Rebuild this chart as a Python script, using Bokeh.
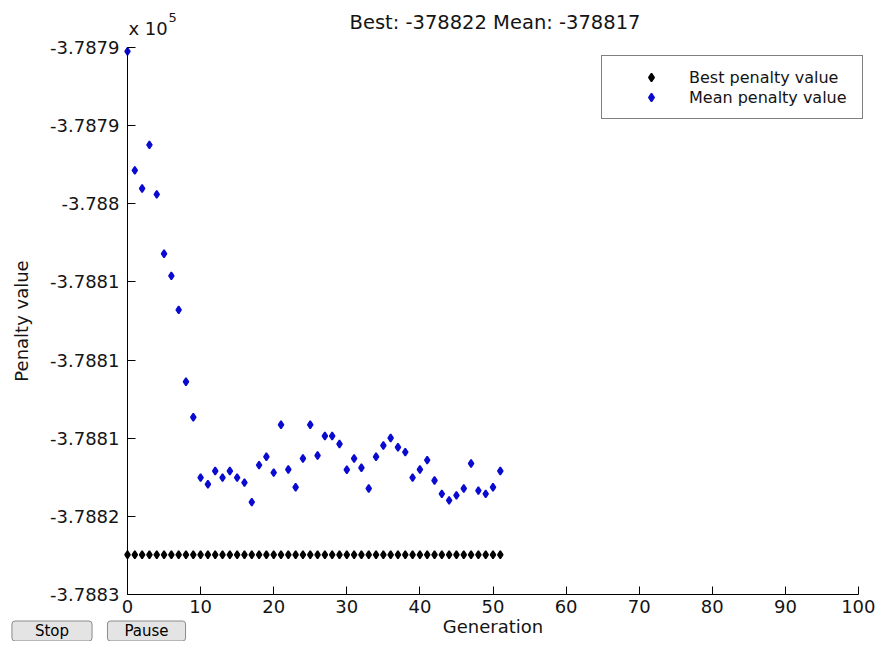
from bokeh.plotting import figure
from bokeh.models import Range1d, FixedTicker, Legend, LegendItem, Label
from bokeh.embed import file_html
from bokeh.resources import INLINE

# ---- data ----
generations = [0, 1, 2, 3, 4, 5, 6, 7, 8, 9, 10, 11, 12, 13, 14, 15, 16, 17, 18, 19,
               20, 21, 22, 23, 24, 25, 26, 27, 28, 29, 30, 31, 32, 33, 34, 35, 36, 37, 38, 39,
               40, 41, 42, 43, 44, 45, 46, 47, 48, 49, 50, 51]
best_penalty = [-378822.46, -378822.46, -378822.46, -378822.46, -378822.46, -378822.46,
                -378822.46, -378822.46, -378822.46, -378822.46, -378822.46, -378822.46,
                -378822.46, -378822.46, -378822.46, -378822.46, -378822.46, -378822.46,
                -378822.46, -378822.46, -378822.46, -378822.46, -378822.46, -378822.46,
                -378822.46, -378822.46, -378822.46, -378822.46, -378822.46, -378822.46,
                -378822.46, -378822.46, -378822.46, -378822.46, -378822.46, -378822.46,
                -378822.46, -378822.46, -378822.46, -378822.46, -378822.46, -378822.46,
                -378822.46, -378822.46, -378822.46, -378822.46, -378822.46, -378822.46,
                -378822.46, -378822.46, -378822.46, -378822.46]
mean_penalty = [-378790.25, -378797.86, -378799.02, -378796.23, -378799.40, -378803.20,
                -378804.61, -378806.79, -378811.39, -378813.66, -378817.52, -378817.95,
                -378817.10, -378817.52, -378817.10, -378817.52, -378817.84, -378819.09,
                -378816.72, -378816.19, -378817.20, -378814.14, -378817.00, -378818.14,
                -378816.30, -378814.14, -378816.11, -378814.86, -378814.86, -378815.37,
                -378817.02, -378816.30, -378816.89, -378818.22, -378816.19, -378815.47,
                -378814.99, -378815.58, -378815.89, -378817.52, -378817.00, -378816.40,
                -378817.71, -378818.56, -378818.98, -378818.66, -378818.22, -378816.62,
                -378818.35, -378818.56, -378818.14, -378817.10]

x_axis_min, x_axis_max = 0, 100
y_axis_min, y_axis_max = -378825, -378790
x_tick_values = [0, 10, 20, 30, 40, 50, 60, 70, 80, 90, 100]
y_tick_values = [-378825, -378820, -378815, -378810, -378805, -378800, -378795, -378790]
y_tick_labels = ["-3.7883", "-3.7882", "-3.7881", "-3.7881", "-3.7881", "-3.788", "-3.7879", "-3.7879"]

title_text = "Best: -378822 Mean: -378817"
x_label = "Generation"
y_label = "Penalty value"
multiplier_text = "x 10"
multiplier_exp = "5"
legend_labels = ["Best penalty value", "Mean penalty value"]
button_labels = ["Stop", "Pause"]

# ---- layout (pixels on the canvas) ----
CW, CH = 875, 641
AX_LEFT_PX, AX_RIGHT_PX = 127, 858      # where x = 0 and x = 100 sit
AX_TOP_PX, AX_BOTTOM_PX = 47, 594       # where y = top and bottom of the axis sit

FONT = "DejaVu Sans"
TXT = "#141414"
BLUE = "#0a0ad0"

sx = (AX_RIGHT_PX - AX_LEFT_PX) / (x_axis_max - x_axis_min)
sy = (AX_BOTTOM_PX - AX_TOP_PX) / (y_axis_max - y_axis_min)
x_rng = Range1d(x_axis_min - AX_LEFT_PX / sx, x_axis_max + (CW - AX_RIGHT_PX) / sx)
y_rng = Range1d(y_axis_min - (CH - AX_BOTTOM_PX) / sy, y_axis_max + AX_TOP_PX / sy)

p = figure(width=CW, height=CH, output_backend="svg", toolbar_location=None,
           x_range=x_rng, y_range=y_rng,
           min_border_left=0, min_border_right=0, min_border_top=0, min_border_bottom=0,
           background_fill_color="white", border_fill_color="white")
p.outline_line_color = None
p.grid.visible = False

for ax in (p.xaxis[0], p.yaxis[0]):
    ax.axis_line_color = "black"
    ax.axis_line_width = 1
    ax.major_tick_line_color = "black"
    ax.major_tick_in = 8
    ax.major_tick_out = 0
    ax.minor_tick_in = 0
    ax.minor_tick_out = 0
    ax.major_label_text_font = FONT
    ax.major_label_text_font_size = "18px"
    ax.major_label_text_color = TXT
    ax.axis_label_text_font = FONT
    ax.axis_label_text_font_size = "18px"
    ax.axis_label_text_font_style = "normal"
    ax.axis_label_text_color = TXT

p.xaxis.fixed_location = y_axis_min
p.xaxis.bounds = (x_axis_min, x_axis_max)
p.xaxis.ticker = FixedTicker(ticks=x_tick_values)
p.xaxis.axis_label = x_label
p.xaxis.major_label_standoff = 5
p.xaxis.axis_label_standoff = 0

p.yaxis.fixed_location = x_axis_min
p.yaxis.bounds = (y_axis_min, y_axis_max)
p.yaxis.ticker = FixedTicker(ticks=y_tick_values)
p.yaxis.major_label_overrides = dict(zip(y_tick_values, y_tick_labels))
p.yaxis.axis_label = y_label
p.yaxis.major_label_standoff = 8
p.yaxis.axis_label_standoff = 15

r_best = p.scatter(generations, best_penalty, marker="diamond", size=7.5,
                   fill_color="black", line_color="black", line_width=1.6)
r_mean = p.scatter(generations, mean_penalty, marker="diamond", size=7.5,
                   fill_color=BLUE, line_color=BLUE, line_width=1.6)

legend = Legend(items=[LegendItem(label=legend_labels[0], renderers=[r_best]),
                       LegendItem(label=legend_labels[1], renderers=[r_mean])],
                location=(601, 522), padding=11, spacing=0, margin=0,
                glyph_width=76, glyph_height=20, label_height=20, label_width=162,
                label_standoff=0, border_line_color="black", border_line_width=1,
                background_fill_color="white", background_fill_alpha=1,
                label_text_font=FONT, label_text_font_size="16px", label_text_color=TXT)
p.add_layout(legend)

# title and exponent multiplier (screen units from the bottom-left corner)
p.add_layout(Label(x=494.5, y=CH - 21.5, x_units="screen", y_units="screen", text=title_text,
                   text_align="center", text_baseline="middle",
                   text_font=FONT, text_font_size="19.5px", text_color=TXT))
p.add_layout(Label(x=128, y=CH - 28, x_units="screen", y_units="screen", text=multiplier_text,
                   text_align="left", text_baseline="middle",
                   text_font=FONT, text_font_size="18px", text_color=TXT))
p.add_layout(Label(x=168, y=CH - 17, x_units="screen", y_units="screen", text=multiplier_exp,
                   text_align="left", text_baseline="middle",
                   text_font=FONT, text_font_size="13px", text_color=TXT))

# Stop / Pause buttons
for bx, lab, pad in zip([51.5, 146], button_labels, [23, 17]):
    p.add_layout(Label(x=bx, y=10.5, x_units="screen", y_units="screen", text=lab,
                       text_align="center", text_baseline="middle",
                       text_font=FONT, text_font_size="15px", text_color="#000000",
                       background_fill_color="#e4e4e4", border_line_color="#8a8a8a",
                       border_line_width=1, border_radius=3,
                       padding=dict(left=pad, right=pad, top=1, bottom=1)))

open("out.html", "w").write(file_html(p, INLINE))
